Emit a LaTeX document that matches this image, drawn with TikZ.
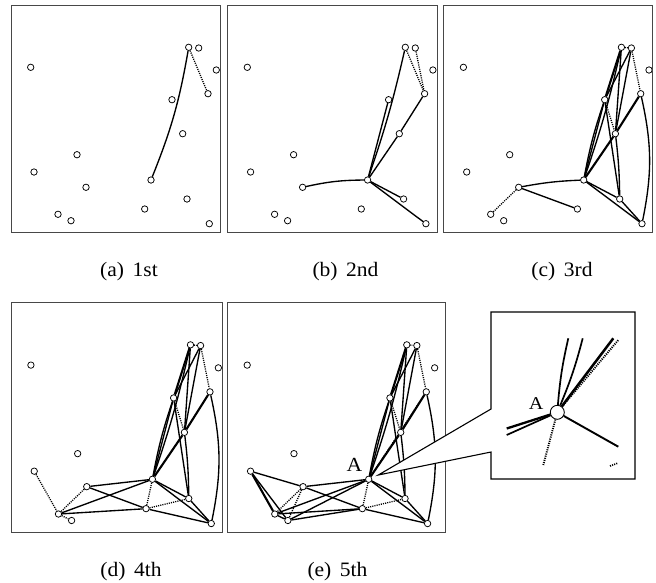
\documentclass[tikz,border=0pt]{standalone}
\usepackage{fontspec}
\setmainfont{Liberation Serif}
\pgfdeclarelayer{bg}
\pgfsetlayers{bg,main}

\tikzset{
  vtx/.style={circle,draw=black,fill=white,line width=0.75pt,inner sep=0pt,minimum size=6.4pt},
  ed/.style={line width=1.35pt},
  edb/.style={line width=2.1pt},
  dt/.style={line width=1.3pt,dash pattern=on 1.1pt off 1.1pt},
  frm/.style={draw=black!72,line width=0.9pt},
  captext/.style={anchor=base,inner sep=0pt,font=\fontsize{20.5}{24}\selectfont},
  lbl/.style={anchor=base,inner sep=0pt},
}

% the sixteen points of one snapshot
\newcommand\vertsat[1]{%
  \foreach \k/\px/\py in {1/30.7/67.3,2/188.7/47.3,3/198.7/48,4/216.3/70,5/208/93.7,
      6/172/99.7,7/182.7/133.7,8/77/154.7,9/34/172,10/151/180,11/86/187.3,
      12/187/199,13/144.7/209,14/58/214.3,15/71/220.7,16/209.3/223.7}
    \node[vtx] (#1n\k) at (\px,\py) {};%
}

% right-hand cluster, present from the 3rd step on
\newcommand\upperedges[1]{%
  \foreach \u/\v in {10/6,6/3,7/2,7/3,6/12,12/16,10/12,10/16}
    \draw[ed] (#1n\u) -- (#1n\v);
  \draw[ed] (#1n10) to[bend left=4] (#1n6);
  \draw[ed] (#1n10) to[bend right=3] (#1n2);
  \draw[edb] (#1n10) -- (#1n7);
  \draw[edb] (#1n7) -- (#1n5);
  \draw[edb] (#1n6) -- (#1n2);
  \draw[ed] (#1n7) to[bend left=3] (#1n12);
  \draw[ed] (#1n5) to[bend left=12] (#1n16);
  \foreach \u/\v in {6/7,3/5,2/3}
    \draw[dt] (#1n\u) -- (#1n\v);
}

\begin{document}
\begin{tikzpicture}[x=1pt,y=-1pt]
\useasboundingbox (0,0) rectangle (656,582);

% ---------- (a) 1st ----------
\begin{scope}
  \vertsat{a}
  \begin{pgfonlayer}{bg}
    \draw[ed] (an10) to[bend right=6] (an2);
    \draw[dt] (an2) -- (an5);
  \end{pgfonlayer}
\end{scope}
\draw[frm] (11,5.7) rectangle (220.2,232.8);

% ---------- (b) 2nd ----------
\begin{scope}[shift={(216.6,0)}]
  \vertsat{b}
  \begin{pgfonlayer}{bg}
    \foreach \u/\v in {10/6,10/7,7/5,10/12,10/16}
      \draw[ed] (bn\u) -- (bn\v);
    \draw[ed] (bn10) to[bend right=3] (bn2);
    \draw[ed] (bn10) to[bend right=6] (bn11);
    \draw[dt] (bn2) -- (bn5);
    \draw[dt] (bn3) -- (bn5);
  \end{pgfonlayer}
\end{scope}
\draw[frm] (227.3,5.7) rectangle (437.3,232.8);

% ---------- (c) 3rd ----------
\begin{scope}[shift={(432.7,0)}]
  \vertsat{c}
  \begin{pgfonlayer}{bg}
    \upperedges{c}
    \draw[ed] (cn10) to[bend right=4] (cn11);
    \draw[ed] (cn11) -- (cn13);
    \draw[dt] (cn11) -- (cn14);
  \end{pgfonlayer}
\end{scope}
\draw[frm] (443.3,5.7) rectangle (652,232.8);

% ---------- (d) 4th ----------
\begin{scope}[shift={(11,302.7)},xscale=1.01,yscale=1.013,shift={(-11,-5.7)}]
  \vertsat{d}
  \begin{pgfonlayer}{bg}
    \upperedges{d}
    \foreach \u/\v in {10/11,11/13,14/10,14/13,13/16}
      \draw[ed] (dn\u) -- (dn\v);
    \foreach \u/\v in {9/14,14/15,11/14,10/13,13/12}
      \draw[dt] (dn\u) -- (dn\v);
  \end{pgfonlayer}
\end{scope}
\draw[frm] (11,302.7) rectangle (222,532.3);

% ---------- (e) 5th ----------
\begin{scope}[shift={(227.3,302.7)},xscale=1.01,yscale=1.013,shift={(-11,-5.7)}]
  \vertsat{e}
  \begin{pgfonlayer}{bg}
    \upperedges{e}
    \foreach \u/\v in {10/11,11/13,14/10,15/10,14/13,15/13,13/16,9/11,9/15,14/15}
      \draw[ed] (en\u) -- (en\v);
    \draw[edb] (en9) -- (en14);
    \foreach \u/\v in {11/14,10/13,13/12,10/5,11/15}
      \draw[dt] (en\u) -- (en\v);
  \end{pgfonlayer}
\end{scope}
\draw[frm] (227.7,302.7) rectangle (445,532.3);
\node[lbl,font=\fontsize{20}{24}\selectfont] (labA) at (354.5,471.7) {\scalebox{1.08}[1]{A}};

% ---------- magnified view around A ----------
\path[fill=white,draw=black,line width=1.1pt,line join=miter]
  (378.3,475) -- (491,409) -- (491,312) -- (635,312) -- (635,479)
  -- (491,479) -- (491,452) -- cycle;
\node[circle,draw=black,fill=white,line width=0.9pt,inner sep=0pt,minimum size=14pt]
  (bigA) at (557.3,412.3) {};
\node[lbl,font=\fontsize{18}{22}\selectfont] (labbigA) at (536.2,409) {\scalebox{1.12}[1]{A}};
\coordinate (zu1) at (568.3,338.3);
\coordinate (zu2) at (582.7,338.3);
\coordinate (zu3) at (613.3,338.3);
\coordinate (zu4) at (618.3,340);
\coordinate (zl1) at (506.7,428.5);
\coordinate (zl2) at (506.7,435);
\coordinate (zd1) at (543.3,465);
\coordinate (zr1) at (618.3,446.7);
\coordinate (zt1) at (610,466);
\coordinate (zt2) at (618,463);
\draw[ed,line width=1.7pt] (bigA) to[bend left=4] (zu1);
\draw[ed,line width=1.7pt] (bigA) to[bend right=4] (zu2);
\draw[edb,line width=2.5pt] (bigA) -- (zu3);
\draw[dt,line width=1.9pt] (bigA) -- (zu4);
\draw[edb,line width=2.3pt] (bigA) -- (zl1);
\draw[ed,line width=1.7pt] (bigA) -- (zl2);
\draw[dt,line width=1.9pt] (bigA) -- (zd1);
\draw[ed,line width=1.9pt] (bigA) -- (zr1);
\draw[dt,line width=1.7pt] (zt1) -- (zt2);

% ---------- captions ----------
\node[captext] (capa) at (129,276.6) {\scalebox{1.05}[1]{(a)\hspace{0.4em}1st}};
\node[captext] (capb) at (345.5,276.6) {\scalebox{1.05}[1]{(b)\hspace{0.4em}2nd}};
\node[captext] (capc) at (562,276.6) {\scalebox{1.05}[1]{(c)\hspace{0.4em}3rd}};
\node[captext] (capd) at (131,576) {\scalebox{1.05}[1]{(d)\hspace{0.4em}4th}};
\node[captext] (cape) at (337.5,576) {\scalebox{1.05}[1]{(e)\hspace{0.4em}5th}};
\end{tikzpicture}
\end{document}
